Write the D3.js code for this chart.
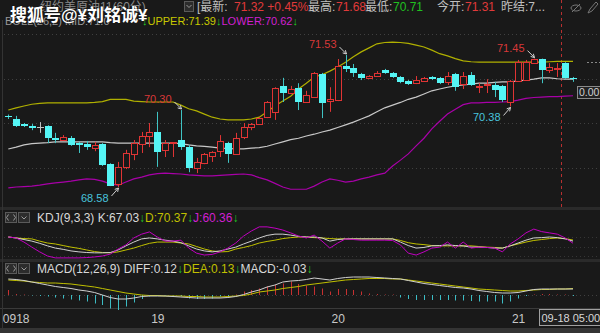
<!DOCTYPE html>
<html>
<head>
<meta charset="utf-8">
<script src="https://cdn.jsdelivr.net/npm/d3@7"></script>
<style>
body{margin:0;background:#191919;overflow:hidden}
svg{display:block}
text{font-family:"Liberation Sans","Noto Sans CJK SC",sans-serif}
</style>
</head>
<body>
<div id="chart-area"></div>
<script>
// hourly candles, 0918 .. 21
var open  = [70.16,70.10,69.99,69.94,69.92,69.94,69.67,69.63,69.67,69.56,69.54,69.45,69.54,69.09,68.65,69.03,69.32,69.54,69.72,69.81,69.41,69.56,69.63,69.47,69.00,69.12,69.27,69.38,69.56,69.32,69.70,69.92,69.99,70.14,70.26,70.84,70.68,70.79,70.48,70.59,71.11,70.50,70.52,71.28,71.24,71.11,71.02,71.06,71.20,71.13,71.04,70.95,70.90,70.95,71.04,71.02,70.93,71.11,70.88,71.08,70.81,70.86,70.86,70.84,70.48,70.95,70.97,71.35,71.44,71.20,71.21,71.35,71.02];
var high  = [70.20,70.17,70.01,69.99,70.03,69.96,69.79,69.74,69.72,69.59,69.61,69.59,69.56,69.11,69.14,69.41,69.63,69.81,70.01,70.26,69.63,69.58,70.30,69.52,69.23,69.34,69.38,69.74,69.59,69.79,70.01,70.01,70.14,70.50,70.81,71.02,70.84,70.90,70.73,71.15,71.13,70.81,71.44,71.53,71.33,71.13,71.08,71.17,71.22,71.15,71.06,70.97,71.06,71.04,71.06,71.04,71.15,71.13,71.15,71.15,70.90,70.99,70.93,70.86,70.97,71.42,71.42,71.45,71.45,71.35,71.35,71.37,71.04];
var low   = [70.10,69.92,69.92,69.85,69.79,69.56,69.56,69.61,69.50,69.34,69.41,69.38,69.05,68.60,68.58,68.98,69.18,69.34,69.47,69.03,69.25,69.25,69.41,68.91,68.89,69.09,69.14,69.25,69.12,69.30,69.65,69.85,69.97,70.12,70.08,70.48,70.66,70.30,70.46,70.57,70.12,70.26,70.50,71.15,71.04,70.97,71.00,71.04,71.11,71.02,70.90,70.86,70.88,70.93,70.97,70.88,70.86,70.73,70.77,70.84,70.68,70.68,70.59,70.48,70.38,70.93,70.95,71.33,70.90,71.13,71.04,71.00,70.93];
var close = [70.14,69.94,69.94,69.90,69.92,69.67,69.63,69.70,69.52,69.52,69.47,69.52,69.07,68.60,69.03,69.34,69.56,69.72,69.81,69.36,69.56,69.58,69.47,69.00,69.14,69.32,69.36,69.61,69.32,69.67,69.92,69.99,70.12,70.48,70.79,70.68,70.77,70.48,70.64,71.13,70.46,70.55,71.28,71.22,71.13,71.02,71.06,71.13,71.13,71.04,70.93,70.88,70.97,71.02,71.00,70.90,71.06,70.81,71.06,70.86,70.84,70.88,70.75,70.52,70.95,71.37,71.37,71.44,71.20,71.26,71.23,71.02,71.00];

// BOLL(26,2)
var upper = [70.30,70.35,70.39,70.43,70.45,70.46,70.46,70.46,70.46,70.46,70.46,70.47,70.49,70.54,70.54,70.54,70.50,70.49,70.48,70.48,70.48,70.48,70.41,70.33,70.28,70.21,70.14,70.10,70.08,70.08,70.08,70.10,70.14,70.26,70.39,70.50,70.61,70.77,70.90,71.04,71.09,71.17,71.26,71.37,71.49,71.60,71.69,71.78,71.81,71.82,71.81,71.79,71.75,71.71,71.64,71.56,71.51,71.45,71.40,71.38,71.37,71.37,71.37,71.37,71.37,71.37,71.37,71.37,71.37,71.38,71.39,71.39,71.39];
var mid   = [69.43,69.47,69.52,69.55,69.56,69.57,69.59,69.59,69.59,69.59,69.59,69.59,69.59,69.57,69.56,69.56,69.56,69.56,69.56,69.56,69.56,69.56,69.55,69.52,69.50,69.49,69.47,69.45,69.44,69.43,69.43,69.45,69.46,69.49,69.54,69.59,69.64,69.67,69.72,69.76,69.81,69.85,69.91,69.97,70.03,70.10,70.17,70.26,70.35,70.41,70.47,70.54,70.59,70.66,70.73,70.77,70.81,70.84,70.86,70.88,70.90,70.90,70.92,70.93,70.93,70.95,70.97,70.99,71.02,71.02,71.00,70.99,70.99];
var lower = [68.56,68.58,68.59,68.60,68.62,68.65,68.67,68.69,68.71,68.74,68.76,68.75,68.71,68.65,68.62,68.69,68.76,68.80,68.85,68.88,68.89,68.88,68.87,68.85,68.84,68.83,68.83,68.84,68.85,68.86,68.87,68.85,68.79,68.74,68.66,68.58,68.53,68.53,68.53,68.60,68.69,68.76,68.73,68.69,68.71,68.76,68.80,68.85,68.89,69.05,69.18,69.32,69.50,69.67,69.88,70.05,70.21,70.32,70.42,70.46,70.46,70.47,70.47,70.48,70.49,70.52,70.56,70.58,70.59,70.60,70.60,70.61,70.62];

// KDJ(9,3,3)
var kVal = [80,77,72,67,60,52,45,41,36,33,31,30,30,31,39,52,64,74,77,74,70,67,62,52,42,36,33,36,42,48,58,67,77,85,89,89,86,82,80,80,77,67,72,74,74,74,74,74,74,74,64,53,45,47,52,53,55,53,52,48,48,47,45,45,52,61,70,77,78,80,78,74,67.03];
var dVal = [80,77,75,74,67,61,58,53,48,44,39,34,31,30,33,39,45,53,60,64,64,64,61,58,50,42,36,33,34,42,47,53,61,66,70,75,78,80,80,78,77,75,74,74,74,74,74,74,74,74,69,62,58,56,53,52,52,52,52,52,50,48,47,45,52,58,64,69,72,75,77,75,70.37];
var jVal = [80,77,64,48,33,20,14,14,14,14,15,17,20,26,42,55,77,89,96,80,67,67,70,45,29,23,25,33,45,61,83,99,112,112,108,102,93,83,77,86,67,45,61,74,72,70,70,70,70,69,55,29,23,33,45,48,64,45,64,45,48,47,45,33,58,74,93,105,97,93,89,77,60.36];

// MACD(12,26,9)
var diff = [0.32,0.31,0.29,0.26,0.23,0.20,0.17,0.15,0.13,0.10,0.08,0.05,0.00,-0.05,-0.08,-0.08,-0.06,-0.03,-0.02,-0.02,-0.02,-0.03,-0.04,-0.05,-0.06,-0.06,-0.06,-0.06,-0.05,-0.03,0.01,0.06,0.10,0.16,0.20,0.26,0.28,0.29,0.31,0.34,0.32,0.30,0.33,0.35,0.36,0.36,0.36,0.35,0.34,0.33,0.32,0.29,0.26,0.23,0.21,0.19,0.17,0.15,0.14,0.12,0.09,0.07,0.05,0.04,0.04,0.05,0.08,0.11,0.12,0.12,0.12,0.12,0.12];
var dea  = [0.30,0.29,0.28,0.26,0.25,0.24,0.24,0.23,0.22,0.20,0.18,0.16,0.13,0.10,0.07,0.04,0.02,0.00,-0.01,-0.01,-0.02,-0.02,-0.02,-0.03,-0.03,-0.04,-0.04,-0.04,-0.03,-0.02,-0.01,0.02,0.06,0.08,0.10,0.13,0.15,0.17,0.20,0.22,0.24,0.26,0.28,0.30,0.31,0.32,0.33,0.33,0.33,0.32,0.32,0.30,0.28,0.26,0.24,0.22,0.20,0.18,0.16,0.14,0.12,0.11,0.10,0.09,0.08,0.08,0.09,0.10,0.11,0.11,0.12,0.12,0.13];
var macd = [0.10,0.02,0.01,-0.01,-0.02,-0.03,-0.05,-0.07,-0.09,-0.11,-0.13,-0.17,-0.20,-0.27,-0.30,-0.23,-0.15,-0.08,-0.03,-0.02,-0.01,-0.01,-0.02,-0.07,-0.08,-0.08,-0.07,-0.03,-0.02,0.01,0.07,0.10,0.13,0.17,0.20,0.23,0.27,0.22,0.19,0.17,0.13,0.07,0.12,0.12,0.10,0.07,0.03,0.02,0.01,0.01,-0.05,-0.08,-0.10,-0.10,-0.10,-0.10,-0.10,-0.11,-0.11,-0.12,-0.13,-0.13,-0.13,-0.17,-0.13,-0.07,-0.02,0.01,0.02,0.02,0.01,0.01,-0.02];

var dayIdx = [0,19,42,65];
var dayLabels = ["0918","19","20","21"];
var priceGrid = [72,71,70,69];
var kdjGrid = [80,50,20];
var markIdx = [14,22,43,64,67];
var markKind = ["low","high","high","low","high"];
var cursorIdx = 70.5;

var width = 600, height = 333;
var bg = "#191919", red = "#e03434", cyan = "#55f5f5", green = "#22c822";
var yellow = "#c0c000", purple = "#c000c0";

var svg = d3.select("#chart-area").append("svg")
    .attr("width", width)
    .attr("height", height);
svg.append("rect").attr("width", width).attr("height", height).attr("fill", bg);

var x = d3.scaleLinear().domain([0, 72]).range([8.3, 573]);
var y = d3.scaleLinear().domain([72, 69]).range([34, 168.2]);
var yK = d3.scaleLinear().domain([80, 20]).range([237, 256]);
var yM = d3.scaleLinear().domain([0, 0.3]).range([295, 280]);
var px = i => Math.round(x(i));

// panel frames
svg.append("rect").attr("x", 0).attr("y", 207).attr("width", width).attr("height", 3).attr("fill", "#2a2a2a");
svg.append("rect").attr("x", 0).attr("y", 259).attr("width", width).attr("height", 3).attr("fill", "#2a2a2a");
svg.append("line").attr("x1", 0).attr("x2", width).attr("y1", 308.5).attr("y2", 308.5).attr("stroke", "#3a3a3a");
svg.append("rect").attr("x", 0).attr("y", 328).attr("width", width).attr("height", 5).attr("fill", "#343434");
svg.append("line").attr("x1", 2.5).attr("x2", 2.5).attr("y1", 20).attr("y2", 328).attr("stroke", "#333");

// grids
var dotted = "1,3";
svg.selectAll(".pgrid").data(priceGrid).enter().append("line")
    .attr("x1", 4).attr("x2", width)
    .attr("y1", d => Math.round(y(d)) + 0.5).attr("y2", d => Math.round(y(d)) + 0.5)
    .attr("stroke", "#404040").attr("stroke-dasharray", dotted);
svg.selectAll(".kgrid").data(kdjGrid).enter().append("line")
    .attr("x1", 4).attr("x2", width)
    .attr("y1", d => Math.round(yK(d)) + 0.5).attr("y2", d => Math.round(yK(d)) + 0.5)
    .attr("stroke", "#363636").attr("stroke-dasharray", dotted);
svg.append("line").attr("x1", 4).attr("x2", width)
    .attr("y1", Math.round(yM(0)) + 0.5).attr("y2", Math.round(yM(0)) + 0.5)
    .attr("stroke", "#404040").attr("stroke-dasharray", dotted);

// cursor line
svg.append("line")
    .attr("x1", Math.round(x(cursorIdx)) + 0.5).attr("x2", Math.round(x(cursorIdx)) + 0.5)
    .attr("y1", 0).attr("y2", 209)
    .attr("stroke", "#b83030").attr("stroke-dasharray", "3,3");

// bollinger
var line = d3.line().x((d, i) => x(i)).y(d => y(d));
[[upper, "#b0b000"], [mid, "#c8c8c8"], [lower, "#a800a8"]].forEach(s => {
    svg.append("path").datum(s[0]).attr("d", line).attr("fill", "none")
        .attr("stroke", s[1]).attr("stroke-width", 1.2);
});

// candles
var idx = d3.range(open.length);
var colorOf = i => close[i] > open[i] ? red : (close[i] < open[i] ? cyan : "#c0c0c0");
var g = svg.append("g");
g.selectAll(".wick").data(idx).enter().append("line")
    .attr("x1", i => px(i) + 0.5).attr("x2", i => px(i) + 0.5)
    .attr("y1", i => y(high[i])).attr("y2", i => y(low[i]))
    .attr("stroke", i => close[i] < open[i] ? "#3fc4c4" : colorOf(i));
g.selectAll(".body").data(idx).enter().append("rect")
    .attr("x", i => close[i] > open[i] ? px(i) - 2.5 : px(i) - 3)
    .attr("y", i => close[i] > open[i] ? Math.round(y(Math.max(open[i], close[i]))) + 0.5 : Math.round(y(Math.max(open[i], close[i]))))
    .attr("width", i => close[i] > open[i] ? 6 : 7)
    .attr("height", i => Math.max(1, Math.round(y(Math.min(open[i], close[i])) - y(Math.max(open[i], close[i])))))
    .attr("fill", i => close[i] > open[i] ? bg : colorOf(i))
    .attr("stroke", i => close[i] > open[i] ? red : "none");

// high / low marks
markIdx.forEach((i, k) => {
    var isHigh = markKind[k] == "high";
    var v = isHigh ? high[i] : low[i];
    var tx = px(i) + 0.5, ty = y(v) + (isHigh ? -1 : 1);
    var sx = tx - 7, sy = ty + (isHigh ? -7 : 8);
    svg.append("line").attr("x1", sx).attr("y1", sy).attr("x2", tx).attr("y2", ty)
        .attr("stroke", "#d0d0d0");
    var a = Math.atan2(ty - sy, tx - sx);
    var hp = [[tx, ty], [tx - 4 * Math.cos(a - 0.5), ty - 4 * Math.sin(a - 0.5)], [tx - 4 * Math.cos(a + 0.5), ty - 4 * Math.sin(a + 0.5)]];
    svg.append("path").attr("d", "M" + hp[1] + "L" + hp[0] + "L" + hp[2]).attr("fill", "none").attr("stroke", "#d0d0d0");
    svg.append("text").attr("x", sx - 3).attr("y", isHigh ? sy + 1 : sy + 6)
        .attr("text-anchor", "end").attr("font-size", "11px")
        .attr("fill", isHigh ? "#d83838" : "#48c4dc")
        .text(v.toFixed(2));
});

// right side bits
svg.append("line").attr("x1", 587).attr("x2", width).attr("y1", 62.5).attr("y2", 62.5)
    .attr("stroke", "#888").attr("stroke-dasharray", "2,2");
svg.append("rect").attr("x", 577.5).attr("y", 86.5).attr("width", 30).attr("height", 12)
    .attr("fill", "#222").attr("stroke", "#8a8a8a");
svg.append("text").attr("x", 579).attr("y", 96).attr("font-size", "10.5px").attr("fill", "#d0d0d0").text("0.00");

// KDJ lines
var lineK = d3.line().x((d, i) => x(i)).y(d => yK(d));
[[dVal, yellow], [kVal, "#d0d0d0"], [jVal, purple]].forEach(s => {
    svg.append("path").datum(s[0]).attr("d", lineK).attr("fill", "none").attr("stroke", s[1]);
});

// MACD
svg.selectAll(".bar").data(macd).enter().append("line")
    .attr("x1", (d, i) => px(i) + 0.5).attr("x2", (d, i) => px(i) + 0.5)
    .attr("y1", yM(0)).attr("y2", d => yM(d))
    .attr("stroke", d => d >= 0 ? "#c83030" : "#3cbcc4");
var lineM = d3.line().x((d, i) => x(i)).y(d => yM(d));
[[dea, yellow], [diff, "#d0d0d0"]].forEach(s => {
    svg.append("path").datum(s[0]).attr("d", lineM).attr("fill", "none").attr("stroke", s[1]);
});

// date axis
var axis = svg.append("g").attr("transform", "translate(0,310)")
    .call(d3.axisBottom(x).tickValues(dayIdx).tickSize(0).tickFormat((d, i) => dayLabels[i]));
axis.select(".domain").remove();
axis.selectAll("text").attr("fill", "#c8c8c8").attr("font-size", "12px")
    .attr("font-family", "Liberation Sans").attr("dy", "0.71em").attr("y", 4);
axis.selectAll("text").filter((d, i) => i == 0).attr("text-anchor", "start").attr("x", -6);
svg.append("rect").attr("x", 539.5).attr("y", 309.5).attr("width", 64).attr("height", 16)
    .attr("fill", "#202020").attr("stroke", "#a0a0a0");
svg.append("text").attr("x", 541.5).attr("y", 322).attr("font-size", "11px").attr("fill", "#d8d8d8").text("09-18 05:00");

// panel headers
function icons(y0) {
    [5.5, 18.5].forEach((ix, k) => {
        svg.append("rect").attr("x", ix).attr("y", y0).attr("width", 11).attr("height", 10)
            .attr("fill", "#2c2c2c").attr("stroke", "#5a5a5a");
        svg.append("path").attr("d", k == 0
                ? "M" + (ix + 3) + "," + (y0 + 2) + "l-2,3l2,3M" + (ix + 8) + "," + (y0 + 2) + "l2,3l-2,3"
                : "M" + (ix + 3) + "," + (y0 + 4) + "l2.5,2.5l2.5,-2.5")
            .attr("fill", "none").attr("stroke", "#9a9a9a");
    });
}
function header(x0, y0, size, parts) {
    var t = svg.append("text").attr("x", x0).attr("y", y0).attr("font-size", size);
    parts.forEach(p => t.append("tspan").attr("fill", p[1]).text(p[0]));
}
icons(212.5);
header(37, 222, "12px", [["KDJ(9,3,3) K:67.03", "#d8d8d8"], ["\u2193", green], ["D:70.37", yellow], ["\u2193", green], ["J:60.36", "#d020d0"], ["\u2193", green]]);
icons(263.5);
header(37, 273, "12px", [["MACD(12,26,9) DIFF:0.12", "#d8d8d8"], ["\u2193", green], ["DEA:0.13", yellow], ["\u2193", green], ["MACD:-0.03", "#d8d8d8"], ["\u2193", green]]);

// top header
svg.append("text").attr("x", 40).attr("y", 11).attr("font-size", "12px").attr("fill", "#8a8a8a").text("纽约美原油11(60分)");
svg.append("rect").attr("x", 184.5).attr("y", 1.5).attr("width", 9).attr("height", 10).attr("fill", "#2c2c2c").attr("stroke", "#5a5a5a");
svg.append("path").attr("d", "M186.5,5l2.5,2.5l2.5,-2.5").attr("fill", "none").attr("stroke", "#9a9a9a");
var top1 = [[197, "[最新:", "#c0c0c0"], [234, "71.32 +0.45%", "#e03a3a"], [308, "最高:", "#c0c0c0"], [336, "71.68", "#e03a3a"],
    [365, "最低:", "#c0c0c0"], [393, "70.71", "#20c020"], [437, "今开:", "#c0c0c0"], [465, "71.31", "#e03a3a"], [501, "昨结:7...", "#c0c0c0"]];
top1.forEach(p => svg.append("text").attr("x", p[0]).attr("y", 11).attr("font-size", "12px").attr("fill", p[2]).text(p[1]));
// eye + pencil icons
svg.append("ellipse").attr("cx", 576).attr("cy", 8).attr("rx", 5).attr("ry", 3).attr("fill", "none").attr("stroke", "#777");
svg.append("line").attr("x1", 572).attr("y1", 12).attr("x2", 580).attr("y2", 4).attr("stroke", "#777");
svg.append("path").attr("d", "M588,13l2,-4l6,-7l2,2l-6,7z").attr("fill", "none").attr("stroke", "#777");

svg.append("text").attr("x", 5).attr("y", 25).attr("font-size", "11px").attr("fill", "#9a9a9a").text("BOLL(26,2) MID:71.0");
header(142, 25, "11px", [["\u2193", green], ["UPPER:71.39", "#c8c800"], ["\u2193", green], ["LOWER:70.62", "#d020d0"], ["\u2193", green]]);

// watermark
svg.append("text").attr("x", 10).attr("y", 21).attr("font-size", "17px").attr("font-weight", "bold")
    .attr("font-family", "Noto Sans CJK SC").attr("fill", "#ffffff")
    .attr("stroke", "#111").attr("stroke-width", 0.6).attr("paint-order", "stroke")
    .text("搜狐号@¥刘铭诚¥");
</script>
</body>
</html>
